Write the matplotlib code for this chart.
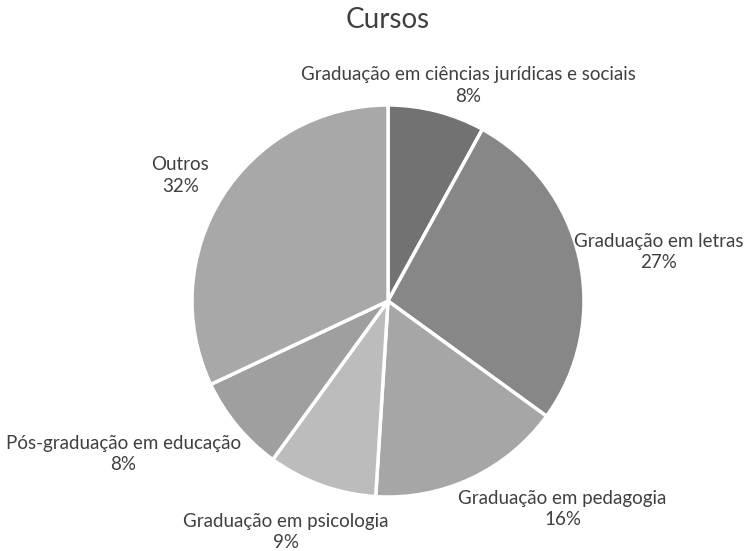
import matplotlib
matplotlib.use("Agg")
import matplotlib.pyplot as plt

plt.rcParams['font.family'] = ['Lato', 'DejaVu Sans']

# data
labels = ['Graduação em ciências jurídicas e sociais', 'Graduação em letras',
          'Graduação em pedagogia', 'Graduação em psicologia',
          'Pós-graduação em educação', 'Outros']
percents = [8, 27, 16, 9, 8, 32]
colors = ['#727272', '#878787', '#a6a6a6', '#bcbcbc', '#9f9f9f', '#a8a8a8']

# label placement (radius units, relative to pie centre)
label_pos = [(0.41, 1.10), (1.38, 0.25), (0.89, -1.06),
             (-0.52, -1.18), (-1.35, -0.78), (-1.06, 0.64)]

fig = plt.figure(figsize=(7.47, 5.51), dpi=100)
W, H = 747, 551
cx, cy, r = 388, 301, 196
ax = fig.add_axes([(cx - r) / W, (H - cy - r) / H, 2 * r / W, 2 * r / H])

ax.pie(percents, colors=colors, startangle=90, counterclock=False,
       radius=1.0, wedgeprops=dict(edgecolor='white', linewidth=2.5))
ax.set_xlim(-1, 1)
ax.set_ylim(-1, 1)
ax.set_aspect('auto')
ax.axis('off')

for lab, p, (x, y) in zip(labels, percents, label_pos):
    ax.text(x, y, f'{lab}\n{p}%', ha='center', va='center', fontsize=13.5,
            color='#404040', linespacing=1.3, clip_on=False)

fig.text(388 / W, 1 - 20 / H, 'Cursos', ha='center', va='center',
         fontsize=20, color='#404040')

fig.savefig('out.png', dpi=100)
